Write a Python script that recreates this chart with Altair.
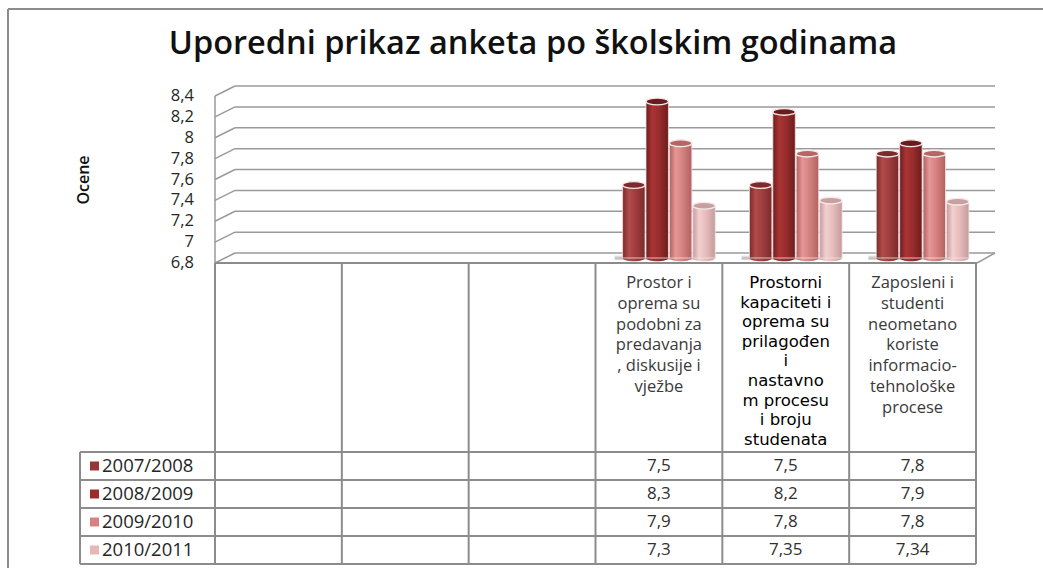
import altair as alt
import pandas as pd

# ---- data ---------------------------------------------------------------
series = ["2007/2008", "2008/2009", "2009/2010", "2010/2011"]
col_index = [0, 1, 2, 3, 4, 5]
header_lines = [
    [],
    [],
    [],
    ["Prostor i", "oprema su", "podobni za", "predavanja", ", diskusije i", "vježbe"],
    ["Prostorni", "kapaciteti i", "oprema su", "prilagođen", "i", "nastavno",
     "m procesu", "i broju", "studenata"],
    ["Zaposleni i", "studenti", "neometano", "koriste", "informacio-",
     "tehnološke", "procese"],
]
prostor = [7.5, 8.3, 7.9, 7.3]
kapaciteti = [7.5, 8.2, 7.8, 7.35]
zaposleni = [7.8, 7.9, 7.8, 7.34]
y_ticks = [6.8, 7.0, 7.2, 7.4, 7.6, 7.8, 8.0, 8.2, 8.4]
y_tick_labels = ["6,8", "7", "7,2", "7,4", "7,6", "7,8", "8", "8,2", "8,4"]
title_text = "Uporedni prikaz anketa po školskim godinama"
y_title = "Ocene"

values_by_col = {3: prostor, 4: kapaciteti, 5: zaposleni}

# ---- styling ------------------------------------------------------------
W, H = 1043, 568
BASE = 6.8
LINE = "#8c8c8c"
GRID = "#9a9a9a"
TEXT_SANS = "Open Sans"
swatch = ["#953735", "#9a2c2c", "#d68282", "#e5b8b7"]
body_stops = [  # (edge, highlight, middle) per series
    ("#7a2a2a", "#b24b4b", "#9d3b3b"),
    ("#6c1d1d", "#aa3434", "#962b2b"),
    ("#b26060", "#e59696", "#d47f7f"),
    ("#c39a9a", "#f3d0d0", "#e5b9b9"),
]
top_fill = ["#7b2b2b", "#6a1c1c", "#b86565", "#c9a0a0"]

vscale = alt.Scale(domain=[6.8, 8.4], range=[253, 86], nice=False, zero=False)
bar_cols = alt.Scale(domain=col_index, range=[225, 986], paddingInner=0, paddingOuter=0)
tab_cols = alt.Scale(domain=col_index, range=[215, 976], paddingInner=0, paddingOuter=0)
rows = alt.Scale(domain=series, range=[452, 564], paddingInner=0, paddingOuter=0)

# ---- tables -------------------------------------------------------------
ticks_df = pd.DataFrame({"v": y_ticks, "lbl": y_tick_labels})
long_rows = []
for c, vals in values_by_col.items():
    for s, v in zip(series, vals):
        long_rows.append({"col": c, "series": s, "value": v, "base": BASE})
bars_df = pd.DataFrame(long_rows)
head_df = pd.DataFrame({"col": col_index,
                        "txt": ["\n".join(l) for l in header_lines]})
one = pd.DataFrame({"k": [0]})
group_df = pd.DataFrame({"col": list(values_by_col.keys()), "base": BASE})

# ---- chrome: outer frame, back wall, floor --------------------------------
frame = alt.layer(
    alt.Chart(one).mark_rule(color=LINE, strokeWidth=2).encode(
        x=alt.value(8), y=alt.value(9), y2=alt.value(H)),
    alt.Chart(one).mark_rule(color=LINE, strokeWidth=2).encode(
        x=alt.value(8), x2=alt.value(W), y=alt.value(9)),
)

grid_back = alt.Chart(ticks_df).mark_rule(color=GRID, strokeWidth=1.5).encode(
    y=alt.Y("v:Q", scale=vscale, axis=None),
    x=alt.value(235), x2=alt.value(995),
)
grid_stub = alt.Chart(ticks_df).mark_rule(color=GRID, strokeWidth=1.5, yOffset=10).encode(
    y=alt.Y("v:Q", scale=vscale, axis=None),
    y2=alt.Y2("v:Q"),
    x=alt.value(215), x2=alt.value(235),
)
axis_df = pd.DataFrame({"lo": [y_ticks[0]], "hi": [y_ticks[-1]]})
front_axis = alt.Chart(axis_df).mark_rule(
    color=GRID, strokeWidth=1.5, yOffset=10, y2Offset=10).encode(
    y=alt.Y("lo:Q", scale=vscale, axis=None),
    y2=alt.Y2("hi:Q"),
    x=alt.value(215),
)
floor_right = alt.Chart(one).mark_rule(color=GRID, strokeWidth=1.5).encode(
    x=alt.value(977), x2=alt.value(995), y=alt.value(263), y2=alt.value(253))

# soft grey shadow cast on the floor by each group of cylinders
shadow = alt.Chart(group_df).mark_bar(
    fill=alt.Gradient(gradient="linear", x1=0, x2=0, y1=0, y2=1,
                      stops=[alt.GradientStop(offset=0, color="#ffffff"),
                             alt.GradientStop(offset=0.6, color="#b5b5b5"),
                             alt.GradientStop(offset=1, color="#d8d8d8")]),
    yOffset=2, y2Offset=7, xOffset=-6, opacity=0.9).encode(
    x=alt.X("col:O", scale=alt.Scale(domain=col_index, range=[225, 986],
                                     paddingInner=0.24, paddingOuter=0.12),
            axis=None),
    y=alt.Y("base:Q", scale=vscale, axis=None),
    y2=alt.Y2("base:Q"),
)

tick_labels = alt.Chart(ticks_df).mark_text(
    align="right", baseline="middle", yOffset=10, font=TEXT_SANS,
    fontSize=16.5, color="#262626").encode(
    y=alt.Y("v:Q", scale=vscale, axis=None),
    x=alt.value(194),
    text="lbl:N",
)

title = alt.Chart(pd.DataFrame({"t": [title_text]})).mark_text(
    font=TEXT_SANS, fontSize=32.5, fontWeight=600, color="#111111",
    align="center", baseline="middle").encode(
    x=alt.value(533), y=alt.value(44), text="t:N")

y_label = alt.Chart(pd.DataFrame({"t": [y_title]})).mark_text(
    font=TEXT_SANS, fontSize=16, fontWeight=600, color="#111111",
    angle=270, align="center", baseline="middle").encode(
    x=alt.value(84), y=alt.value(180), text="t:N")

# ---- cylinders ------------------------------------------------------------
ELLIPSE = "M -1 0 A 1 0.3 0 1 0 1 0 A 1 0.3 0 1 0 -1 0 Z"
off_scale = alt.Scale(domain=series, paddingOuter=0.73, paddingInner=0.04)
cyl_layers = []
for i, s in enumerate(series):
    edge, light, mid = body_stops[i]
    grad = alt.Gradient(
        gradient="linear", x1=0, x2=1, y1=0, y2=0,
        stops=[alt.GradientStop(offset=0, color=edge),
               alt.GradientStop(offset=0.28, color=light),
               alt.GradientStop(offset=0.62, color=mid),
               alt.GradientStop(offset=1, color=edge)],
    )
    base = alt.Chart(bars_df).transform_filter(alt.datum.series == s)
    enc_x = dict(
        x=alt.X("col:O", scale=bar_cols, axis=None),
        xOffset=alt.XOffset("series:N", scale=off_scale),
    )
    bottom = base.mark_point(shape=ELLIPSE, size=500, filled=True, fill=grad,
                             opacity=1, strokeWidth=0, yOffset=5).encode(
        y=alt.Y("base:Q", scale=vscale, axis=None), **enc_x)
    body = base.mark_bar(fill=grad, stroke="#f1e2e2", strokeWidth=0.8,
                         yOffset=5, y2Offset=5).encode(
        y=alt.Y("value:Q", scale=vscale, axis=None),
        y2=alt.Y2("base:Q"), **enc_x)
    top = base.mark_point(shape=ELLIPSE, size=500, filled=True, fill=top_fill[i],
                          opacity=1, stroke="#f6eaea", strokeWidth=1.3,
                          yOffset=5).encode(
        y=alt.Y("value:Q", scale=vscale, axis=None), **enc_x)
    cyl_layers += [bottom, body, top]
cylinders = alt.layer(*cyl_layers)

# ---- data table -------------------------------------------------------------
col_bounds = pd.DataFrame({"b": list(range(len(col_index) + 1))})
row_bounds = pd.DataFrame({"b": list(range(len(series) + 1))})
vlines = alt.Chart(col_bounds).mark_rule(color=LINE, strokeWidth=2).encode(
    x=alt.X("b:Q", scale=alt.Scale(domain=[0, 6], range=[215, 976]), axis=None),
    y=alt.value(263), y2=alt.value(564),
)
hlines = alt.Chart(row_bounds).mark_rule(color=LINE, strokeWidth=2).encode(
    y=alt.Y("b:Q", scale=alt.Scale(domain=[0, 4], range=[452, 564]), axis=None),
    x=alt.value(80), x2=alt.value(976),
)
legend_left = alt.Chart(one).mark_rule(color=LINE, strokeWidth=2).encode(
    x=alt.value(80), y=alt.value(452), y2=alt.value(564))
floor_front = alt.Chart(one).mark_rule(color=LINE, strokeWidth=2).encode(
    x=alt.value(215), x2=alt.value(977), y=alt.value(263))

head_plain = alt.Chart(head_df).transform_filter(
    (alt.datum.col == 3) | (alt.datum.col == 5)).mark_text(
    font=TEXT_SANS, fontSize=16.5, color="#3a3a3a", lineBreak="\n",
    lineHeight=20.8, align="center", baseline="top").encode(
    x=alt.X("col:O", scale=tab_cols, axis=None), y=alt.value(275), text="txt:N")
head_bold = alt.Chart(head_df).transform_filter(alt.datum.col == 4).mark_text(
    font="DejaVu Sans", fontSize=16.5, color="#000000", lineBreak="\n",
    lineHeight=19.6, align="center", baseline="top").encode(
    x=alt.X("col:O", scale=tab_cols, axis=None), y=alt.value(275), text="txt:N")

cell_text = alt.Chart(bars_df).transform_calculate(
    lbl="replace(toString(datum.value), '.', ',')").mark_text(
    font=TEXT_SANS, fontSize=17, color="#303030", align="center",
    baseline="middle").encode(
    x=alt.X("col:O", scale=tab_cols, axis=None),
    y=alt.Y("series:N", scale=rows, axis=None),
    text="lbl:N",
)

legend_df = pd.DataFrame({"series": series})
swatches = alt.Chart(legend_df).mark_square(size=81, opacity=1).encode(
    x=alt.value(94.5),
    y=alt.Y("series:N", scale=rows, axis=None),
    color=alt.Color("series:N", scale=alt.Scale(domain=series, range=swatch),
                    legend=None),
)
legend_text = alt.Chart(legend_df).mark_text(
    font=TEXT_SANS, fontSize=18.5, color="#262626", align="left",
    baseline="middle").encode(
    x=alt.value(102),
    y=alt.Y("series:N", scale=rows, axis=None),
    text="series:N",
)

chart = alt.layer(
    frame, grid_back, grid_stub, front_axis, floor_right, shadow, cylinders,
    vlines, hlines, legend_left, floor_front,
    tick_labels, title, y_label, head_plain, head_bold, cell_text,
    swatches, legend_text,
).resolve_scale(
    x="independent", y="independent", color="independent",
).properties(
    width=W, height=H, padding=0,
    autosize=alt.AutoSizeParams(type="none"),
    background="white",
).configure_view(stroke=None)

chart.save("out.html", embed_options={"renderer": "svg", "actions": False})
